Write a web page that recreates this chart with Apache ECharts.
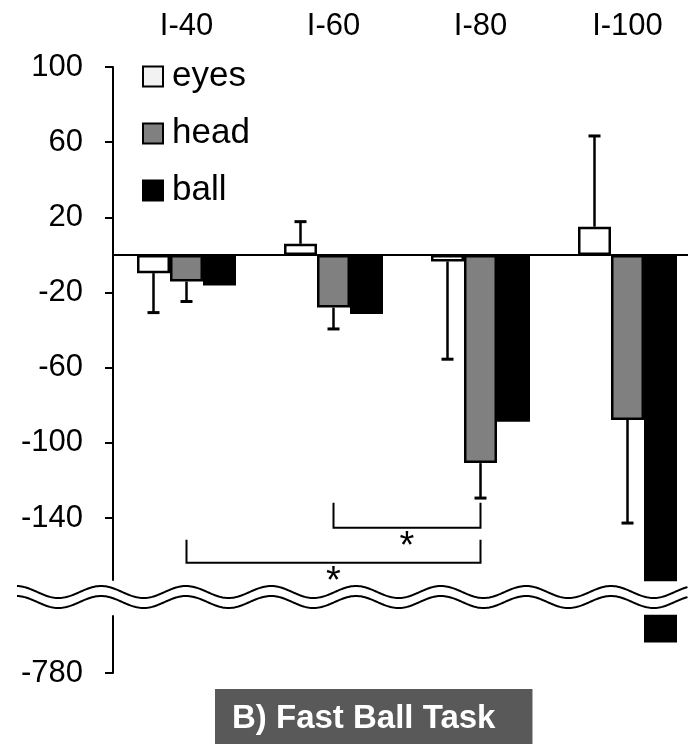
<!DOCTYPE html>
<html><head><meta charset="utf-8">
<script src="https://cdn.jsdelivr.net/npm/echarts@6/dist/echarts.min.js"></script>
<style>html,body{margin:0;padding:0;background:#fff}#c{width:688px;height:744px}</style>
</head><body><div id="c"></div>
<script>
// ---- data ----
const categories = ['I-40', 'I-60', 'I-80', 'I-100'];
const seriesNames = ['eyes', 'head', 'ball'];
const eyesVals = [-9.7, 5.9, -3.5, 15];
const headVals = [-14.2, -28, -110.8, -87.8];
const ballVals = [-16.3, -31.4, -88.8, -764];
const eyesErr = [21, 11.8, 52, 48.3];
const headErr = [10.6, 11.4, 18.6, 54.9];
const upperTicks = [100, 60, 20, -20, -60, -100, -140];
const lowerTicks = [-780];
// significance brackets
const bracketFrom = [1, 0];
const bracketTo = [2, 2];
const bracketLegTop = [-131.9, -151.6];
const bracketLevel = [-145.2, -163.8];
const bracketText = ['*', '*'];

// ---- layout / style ----
const FONT = 'Liberation Sans, Arial, sans-serif';
const GRID_LEFT = 113, GRID_W = 588;
const TOP_Y = 67, TOP_H = 513;
const LOW_Y = 616, LOW_H = 57;
const BAR_W = 33;

const chart = echarts.init(document.getElementById('c'));

function yAxisCfg(idx, min, max, ticks) {
  return {
    type: 'value', gridIndex: idx, min: min, max: max,
    axisLine: { show: true, lineStyle: { color: '#000', width: 2 } },
    axisTick: { show: true, length: 8, lineStyle: { color: '#000', width: 2 }, customValues: ticks },
    axisLabel: { customValues: ticks, fontSize: 31, color: '#000', fontFamily: FONT, margin: 30 },
    splitLine: { show: false }
  };
}

const colors = { eyes: '#ffffff', head: '#808080', ball: '#000000' };
const valsByName = { eyes: eyesVals, head: headVals, ball: ballVals };

const series = [];
[0, 1].forEach(function (g) {
  seriesNames.forEach(function (name, k) {
    const s = {
      type: 'bar', name: name, xAxisIndex: g, yAxisIndex: g,
      data: valsByName[name], barWidth: BAR_W, barGap: '0%',
      itemStyle: { color: colors[name], borderColor: '#000', borderWidth: 2.5 },
      silent: true, animation: false
    };
    if (g === 0 && k === 0) {
      s.markLine = {
        silent: true, symbol: ['none', 'none'], label: { show: false },
        lineStyle: { color: '#000', width: 2, type: 'solid' },
        data: [{ yAxis: 0 }], animation: false
      };
    }
    series.push(s);
  });
});

function errSeries(vals, errs, slot) {
  return {
    type: 'custom', xAxisIndex: 0, yAxisIndex: 0, silent: true, animation: false, z: 3,
    data: vals.map(function (v, i) { return [i, v, errs[i]]; }),
    renderItem: function (params, api) {
      const i = api.value(0), v = api.value(1), e = api.value(2);
      const sgn = v >= 0 ? 1 : -1;
      const p0 = api.coord([i, v]);
      const p1 = api.coord([i, v + sgn * e]);
      const x = p0[0] + (slot - 1) * BAR_W;
      return {
        type: 'group', children: [
          { type: 'line', shape: { x1: x, y1: p0[1], x2: x, y2: p1[1] }, style: { stroke: '#000', lineWidth: 2.5 } },
          { type: 'line', shape: { x1: x - 6, y1: p1[1], x2: x + 6, y2: p1[1] }, style: { stroke: '#000', lineWidth: 3 } }
        ]
      };
    }
  };
}
series.push(errSeries(eyesVals, eyesErr, 0));
series.push(errSeries(headVals, headErr, 1));

series.push({
  type: 'custom', xAxisIndex: 0, yAxisIndex: 0, silent: true, animation: false, z: 4, clip: false,
  data: bracketFrom.map(function (f, i) { return [f, bracketTo[i], bracketLegTop[i], bracketLevel[i], i]; }),
  renderItem: function (params, api) {
    const a = api.coord([api.value(0), api.value(2)]);
    const b = api.coord([api.value(1), api.value(3)]);
    const idx = api.value(4);
    const x1 = a[0], x2 = b[0], yt = a[1], yb = b[1];
    return {
      type: 'group', children: [
        { type: 'polyline', shape: { points: [[x1, yt], [x1, yb], [x2, yb], [x2, yt]] }, style: { stroke: '#000', lineWidth: 2, fill: null } },
        { type: 'text', style: { text: bracketText[idx], x: (x1 + x2) / 2, y: yb + 1, align: 'center', verticalAlign: 'top', fontSize: 38, fontFamily: FONT, fill: '#000' } }
      ]
    };
  }
});

function wave(cy) {
  const pts = [];
  for (let x = 17; x <= 688; x += 1.5) pts.push([x, cy - 6 * Math.cos(2 * Math.PI * (x - 16) / 85)]);
  return pts;
}
const midBreak = (TOP_Y + TOP_H + LOW_Y) / 2;
const w1 = wave(midBreak - 6), w2 = wave(midBreak + 4);

chart.setOption({
  animation: false,
  backgroundColor: '#fff',
  textStyle: { fontFamily: FONT },
  title: {
    text: 'B) Fast Ball Task', left: 215, top: 689,
    backgroundColor: '#595959', padding: [11, 37, 12, 17],
    textStyle: { color: '#fff', fontSize: 33, fontWeight: 'bold', fontFamily: FONT, lineHeight: 38 }
  },
  legend: {
    data: [
      { name: 'eyes', itemStyle: { color: '#f2f2f2' } },
      { name: 'head' },
      { name: 'ball' }
    ],
    orient: 'vertical', left: 142, top: 59, padding: 0,
    itemWidth: 20, itemHeight: 20, itemGap: 22, icon: 'rect',
    itemStyle: { borderColor: '#000', borderWidth: 2 },
    textStyle: { fontSize: 35, color: '#000', fontFamily: FONT, padding: [0, 0, 0, 4] },
    selectedMode: false
  },
  grid: [
    { left: GRID_LEFT, top: TOP_Y, width: GRID_W, height: TOP_H, outerBoundsMode: 'none', containLabel: false },
    { left: GRID_LEFT, top: LOW_Y, width: GRID_W, height: LOW_H, outerBoundsMode: 'none', containLabel: false }
  ],
  xAxis: [
    { type: 'category', gridIndex: 0, data: categories, position: 'top',
      axisLine: { show: false }, axisTick: { show: false },
      axisLabel: { fontSize: 31, color: '#000', fontFamily: FONT, margin: 25 } },
    { type: 'category', gridIndex: 1, data: categories, show: false }
  ],
  yAxis: [yAxisCfg(0, -173, 100, upperTicks), yAxisCfg(1, -780, -750, lowerTicks)],
  series: series,
  graphic: [
    { type: 'polygon', shape: { points: w1.concat(w2.slice().reverse()) }, style: { fill: '#fff', stroke: null }, z: 100 },
    { type: 'polyline', shape: { points: w1 }, style: { stroke: '#000', lineWidth: 2, fill: null }, z: 101 },
    { type: 'polyline', shape: { points: w2 }, style: { stroke: '#000', lineWidth: 2, fill: null }, z: 101 }
  ]
});
</script></body></html>
